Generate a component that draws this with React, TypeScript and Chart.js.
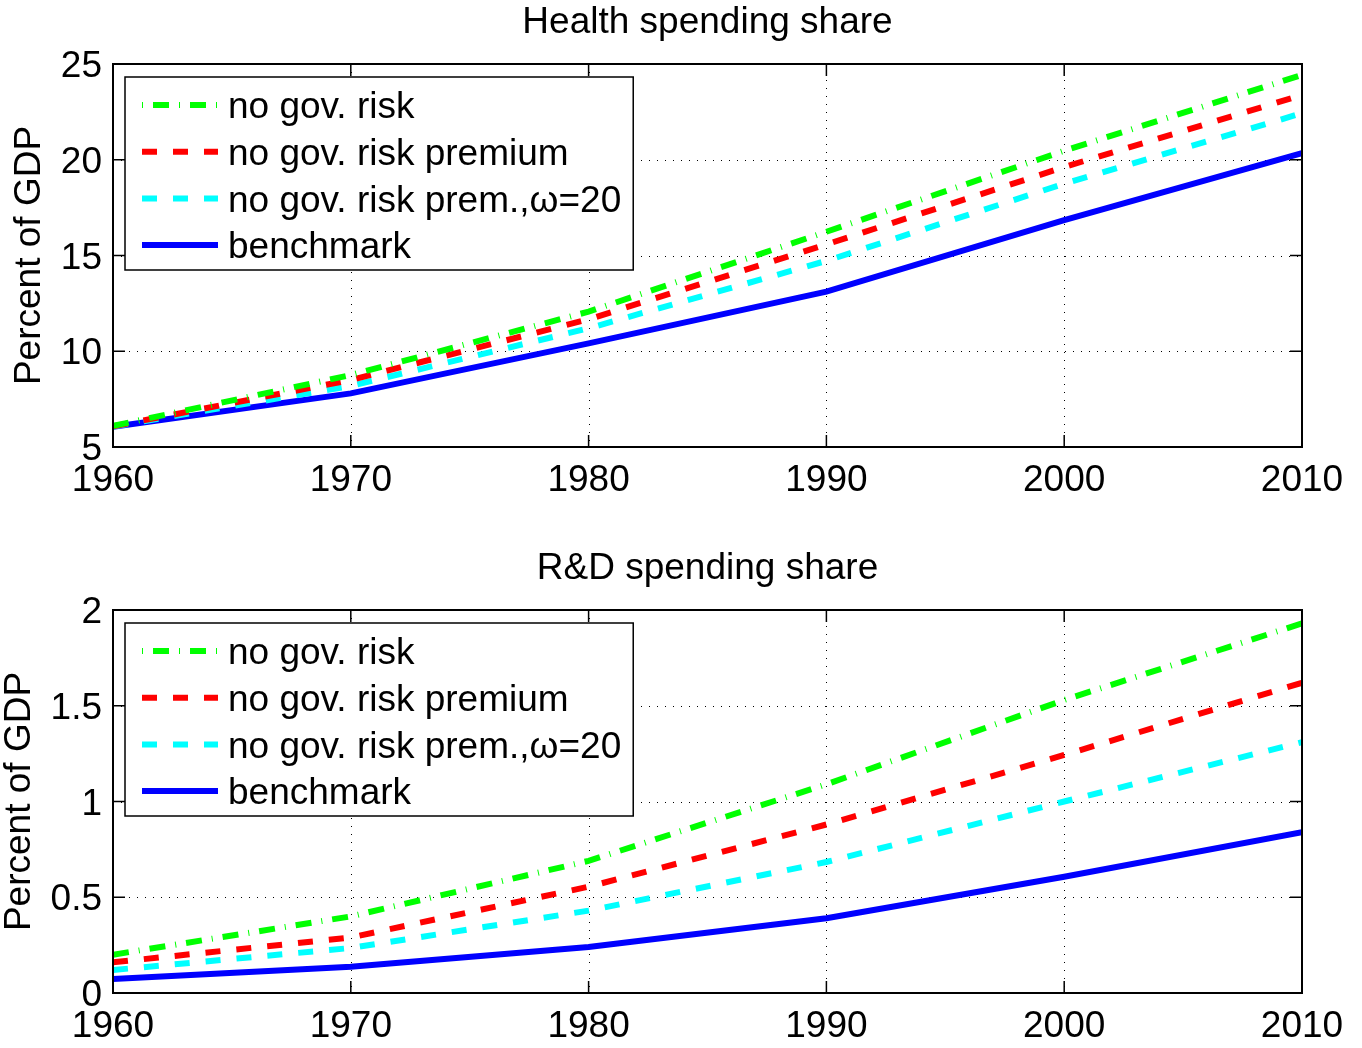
import React, { useEffect, useRef } from "react";
import { Chart, registerables } from "chart.js";

Chart.register(...registerables);

// ---------- data ----------
const years = [1960, 1970, 1980, 1990, 2000, 2010];
const xTickValues = [1960, 1970, 1980, 1990, 2000, 2010];

const seriesLabels = [
  "no gov. risk",
  "no gov. risk premium",
  "no gov. risk prem.,\u03C9=20",
  "benchmark",
];

// Health spending share (percent of GDP)
const healthNoGovRisk = [6.1, 8.76, 12.07, 16.24, 20.47, 24.43];
const healthNoGovRiskPremium = [6.08, 8.5, 11.67, 15.58, 19.62, 23.38];
const healthNoGovRiskPremOmega = [6.07, 8.19, 11.2, 14.72, 18.75, 22.43];
const healthBenchmark = [6.05, 7.8, 10.41, 13.11, 16.85, 20.34];
const healthYTicks = [5, 10, 15, 20, 25];

// R&D spending share (percent of GDP)
const rdNoGovRisk = [0.2, 0.4, 0.69, 1.09, 1.53, 1.93];
const rdNoGovRiskPremium = [0.16, 0.29, 0.555, 0.88, 1.243, 1.62];
const rdNoGovRiskPremOmega = [0.12, 0.235, 0.43, 0.684, 1.0, 1.31];
const rdBenchmark = [0.073, 0.137, 0.24, 0.39, 0.607, 0.84];
const rdYTicks = [0, 0.5, 1, 1.5, 2];

const titles = ["Health spending share", "R&D spending share"];
const yAxisTitle = "Percent of GDP";

// ---------- styles ----------
const FONT = "'Liberation Sans', Arial, Helvetica, sans-serif";
const FONT_SIZE = 37;
const seriesColors = ["#00ff00", "#ff0000", "#00ffff", "#0000ff"];
const seriesDashes: number[][] = [[16, 10, 1, 10], [15, 16], [15, 16], []];
const LINE_W = 6;

function makeDatasets(values: number[][]) {
  return values.map((vals, i) => ({
    label: seriesLabels[i],
    data: years.map((yr, j) => ({ x: yr, y: vals[j] })),
    borderColor: seriesColors[i],
    backgroundColor: seriesColors[i],
    borderWidth: LINE_W,
    borderDash: seriesDashes[i],
    borderCapStyle: "butt",
    pointRadius: 0,
    tension: 0,
    fill: false,
  }));
}

function decorPlugin(title: string, titleY: number, yTitleX: number) {
  return {
    id: "matlabDecor",
    beforeDatasetsDraw(chart: any) {
      const { ctx, chartArea: a, scales } = chart;
      const xs = scales.x;
      const ys = scales.y;
      ctx.save();
      ctx.strokeStyle = "#000";
      ctx.lineWidth = 1;
      ctx.setLineDash([1, 7]);
      xs.ticks.forEach((t: any) => {
        if (t.value > xs.min && t.value < xs.max) {
          const px = Math.round(xs.getPixelForValue(t.value)) + 0.5;
          ctx.beginPath();
          ctx.moveTo(px, a.top);
          ctx.lineTo(px, a.bottom);
          ctx.stroke();
        }
      });
      ys.ticks.forEach((t: any) => {
        if (t.value > ys.min && t.value < ys.max) {
          const py = Math.round(ys.getPixelForValue(t.value)) + 0.5;
          ctx.beginPath();
          ctx.moveTo(a.left, py);
          ctx.lineTo(a.right, py);
          ctx.stroke();
        }
      });
      ctx.restore();
    },
    afterDatasetsDraw(chart: any) {
      const { ctx, chartArea: a, scales } = chart;
      const xs = scales.x;
      const ys = scales.y;
      ctx.save();
      ctx.setLineDash([]);
      ctx.strokeStyle = "#000";
      ctx.lineWidth = 1.5;
      // inner tick marks
      const TL = 12;
      xs.ticks.forEach((t: any) => {
        const px = xs.getPixelForValue(t.value);
        ctx.beginPath();
        ctx.moveTo(px, a.bottom);
        ctx.lineTo(px, a.bottom - TL);
        ctx.moveTo(px, a.top);
        ctx.lineTo(px, a.top + TL);
        ctx.stroke();
      });
      ys.ticks.forEach((t: any) => {
        const py = ys.getPixelForValue(t.value);
        ctx.beginPath();
        ctx.moveTo(a.left, py);
        ctx.lineTo(a.left + TL, py);
        ctx.moveTo(a.right, py);
        ctx.lineTo(a.right - TL, py);
        ctx.stroke();
      });
      ctx.lineWidth = 2;
      ctx.strokeRect(a.left, a.top, a.right - a.left, a.bottom - a.top);

      // legend
      ctx.font = `${FONT_SIZE}px ${FONT}`;
      const dsets = chart.data.datasets;
      let maxW = 0;
      dsets.forEach((d: any) => {
        maxW = Math.max(maxW, ctx.measureText(d.label).width);
      });
      const bx = a.left + 12;
      const by = a.top + 13;
      const bw = 103 + maxW + 12;
      const bh = 193;
      ctx.fillStyle = "#fff";
      ctx.fillRect(bx, by, bw, bh);
      ctx.lineWidth = 1.5;
      ctx.strokeStyle = "#000";
      ctx.strokeRect(bx, by, bw, bh);
      dsets.forEach((d: any, i: number) => {
        const ry = by + 28 + i * 46.7;
        ctx.save();
        ctx.strokeStyle = d.borderColor;
        ctx.lineWidth = d.borderWidth;
        ctx.lineCap = "butt";
        const dash = d.borderDash || [];
        ctx.setLineDash(dash);
        ctx.lineDashOffset = dash.length === 4 ? dash[0] + dash[1] : 0;
        ctx.beginPath();
        ctx.moveTo(bx + 17, ry);
        ctx.lineTo(bx + 93, ry);
        ctx.stroke();
        ctx.restore();
        ctx.fillStyle = "#000";
        ctx.textAlign = "left";
        ctx.textBaseline = "middle";
        ctx.fillText(d.label, bx + 103, ry + 3);
      });
      ctx.restore();
    },
    afterDraw(chart: any) {
      const { ctx, chartArea: a } = chart;
      ctx.save();
      ctx.fillStyle = "#000";
      ctx.font = `${FONT_SIZE}px ${FONT}`;
      ctx.textAlign = "center";
      ctx.textBaseline = "middle";
      ctx.fillText(title, (a.left + a.right) / 2, titleY);
      ctx.translate(yTitleX, (a.top + a.bottom) / 2);
      ctx.rotate(-Math.PI / 2);
      ctx.fillText(yAxisTitle, 0, 0);
      ctx.restore();
    },
  };
}

function buildOptions(yTicks: number[], padTop: number, xAxisHeight: number) {
  const tickFont = { family: FONT, size: FONT_SIZE };
  return {
    animation: false,
    responsive: false,
    maintainAspectRatio: false,
    layout: { padding: { left: 0, right: 60, top: padTop, bottom: 0 } },
    plugins: { legend: { display: false }, tooltip: { enabled: false }, title: { display: false } },
    scales: {
      x: {
        type: "linear",
        min: years[0],
        max: years[years.length - 1],
        afterBuildTicks: (s: any) => {
          s.ticks = xTickValues.map((v) => ({ value: v }));
        },
        afterFit: (s: any) => {
          s.height = xAxisHeight;
        },
        grid: { display: false, drawTicks: false },
        border: { display: false },
        ticks: {
          color: "#000",
          font: tickFont,
          padding: 12,
          maxRotation: 0,
          autoSkip: false,
          callback: (v: any) => String(v),
        },
      },
      y: {
        type: "linear",
        min: yTicks[0],
        max: yTicks[yTicks.length - 1],
        afterBuildTicks: (s: any) => {
          s.ticks = yTicks.map((v) => ({ value: v }));
        },
        afterFit: (s: any) => {
          s.width = 113;
        },
        grid: { display: false, drawTicks: false },
        border: { display: false },
        ticks: {
          color: "#000",
          font: tickFont,
          padding: 11,
          labelOffset: 3,
          autoSkip: false,
          callback: (v: any) => String(v),
        },
      },
    },
  };
}

export default function App() {
  const topRef = useRef<HTMLCanvasElement | null>(null);
  const botRef = useRef<HTMLCanvasElement | null>(null);

  useEffect(() => {
    const c1 = new Chart(topRef.current as HTMLCanvasElement, {
      type: "line",
      data: {
        datasets: makeDatasets([
          healthNoGovRisk,
          healthNoGovRiskPremium,
          healthNoGovRiskPremOmega,
          healthBenchmark,
        ]) as any,
      },
      options: buildOptions(healthYTicks, 64, 73) as any,
      plugins: [decorPlugin(titles[0], 23, 30)],
    });
    const c2 = new Chart(botRef.current as HTMLCanvasElement, {
      type: "line",
      data: {
        datasets: makeDatasets([
          rdNoGovRisk,
          rdNoGovRiskPremium,
          rdNoGovRiskPremOmega,
          rdBenchmark,
        ]) as any,
      },
      options: buildOptions(rdYTicks, 90, 55) as any,
      plugins: [decorPlugin(titles[1], 49, 20)],
    });
    return () => {
      c1.destroy();
      c2.destroy();
    };
  }, []);

  return (
    <div
      style={{
        position: "absolute",
        left: 0,
        top: 0,
        width: 1362,
        height: 1048,
        background: "#fff",
      }}
    >
      <canvas
        ref={topRef}
        width={1362}
        height={520}
        style={{ position: "absolute", left: 0, top: 0, width: 1362, height: 520 }}
      />
      <canvas
        ref={botRef}
        width={1362}
        height={528}
        style={{ position: "absolute", left: 0, top: 520, width: 1362, height: 528 }}
      />
    </div>
  );
}
